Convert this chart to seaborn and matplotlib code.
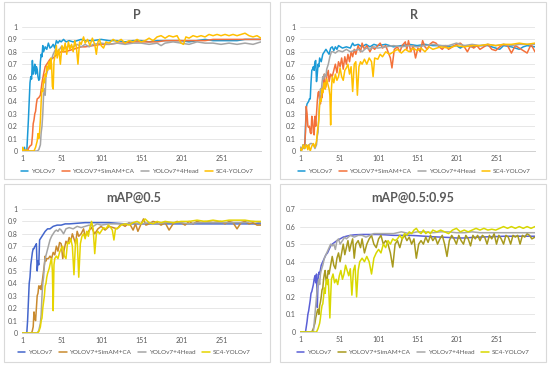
import matplotlib
matplotlib.use("Agg")
import matplotlib.pyplot as plt
from matplotlib.patches import Rectangle
from matplotlib.lines import Line2D
import pandas as pd
import seaborn as sns

# (epoch, value) points
models = ["YOLOv7", "YOLOV7+SimAM+CA", "YOLOv7+4Head", "SC4-YOLOv7"]

p_yolov7 = [(1,0),(3,0),(4,0.03),(5,0),(7,0),(9,0.25),(11,0.55),(12,0.6),(13,0.58),(14,0.73),(15,0.62),(16,0.66),(17,0.7),(18,0.62),(19,0.68),(20,0.66),(21,0.6),(22,0.57),(23,0.58),(24,0.72),(25,0.78),(26,0.76),(27,0.85),(28,0.8),(30,0.84),(32,0.82),(34,0.87),(36,0.83),(38,0.84),(40,0.86),(42,0.83),(44,0.89),(46,0.87),(48,0.89),(50,0.88),(53,0.9),(56,0.88),(60,0.89),(65,0.88),(70,0.89),(75,0.9),(80,0.89),(90,0.89),(100,0.9),(110,0.89),(120,0.89),(130,0.88),(140,0.89),(150,0.89),(160,0.88),(170,0.89),(180,0.89),(190,0.89),(200,0.89),(210,0.88),(220,0.89),(230,0.9),(240,0.89),(250,0.89),(260,0.89),(270,0.89),(280,0.9),(290,0.9),(300,0.9)]
p_simam = [(1,0),(5,0),(8,0),(9,0.02),(11,0.04),(13,0.05),(14,0.12),(15,0.22),(16,0.25),(17,0.3),(18,0.32),(19,0.38),(20,0.42),(22,0.43),(24,0.45),(25,0.5),(26,0.55),(28,0.62),(30,0.68),(32,0.7),(34,0.72),(36,0.74),(40,0.75),(45,0.78),(50,0.8),(55,0.8),(60,0.81),(65,0.82),(70,0.83),(75,0.84),(80,0.84),(90,0.85),(100,0.86),(110,0.86),(120,0.87),(130,0.87),(140,0.88),(150,0.88),(160,0.88),(170,0.88),(180,0.89),(190,0.89),(200,0.89),(210,0.89),(220,0.89),(230,0.89),(240,0.9),(250,0.9),(260,0.9),(270,0.9),(280,0.9),(290,0.9),(300,0.9)]
p_4head = [(1,0),(10,0),(20,0),(22,0.01),(24,0.05),(25,0.15),(26,0.2),(27,0.3),(28,0.45),(29,0.5),(30,0.45),(31,0.6),(33,0.65),(35,0.7),(37,0.72),(40,0.78),(43,0.82),(46,0.8),(50,0.84),(55,0.83),(60,0.85),(65,0.84),(70,0.86),(75,0.84),(80,0.86),(85,0.84),(90,0.86),(100,0.87),(110,0.86),(120,0.87),(130,0.86),(140,0.87),(150,0.87),(160,0.86),(170,0.87),(175,0.85),(180,0.87),(190,0.88),(200,0.87),(210,0.86),(220,0.88),(230,0.87),(240,0.87),(250,0.86),(260,0.87),(270,0.86),(280,0.87),(290,0.86),(300,0.88)]
p_sc4 = [(1,0),(2,0.03),(3,0),(5,0.01),(10,0),(16,0),(18,0.03),(20,0.08),(21,0.14),(22,0.1),(23,0.15),(24,0.25),(25,0.4),(26,0.5),(27,0.48),(28,0.58),(29,0.55),(30,0.62),(31,0.6),(32,0.68),(33,0.65),(34,0.7),(35,0.72),(36,0.66),(37,0.75),(38,0.7),(39,0.52),(40,0.5),(41,0.72),(42,0.76),(44,0.85),(45,0.75),(47,0.82),(49,0.7),(51,0.85),(53,0.8),(55,0.87),(57,0.78),(59,0.88),(61,0.82),(63,0.86),(65,0.8),(67,0.89),(69,0.84),(71,0.7),(73,0.88),(75,0.86),(78,0.92),(80,0.87),(83,0.9),(86,0.85),(89,0.91),(92,0.86),(94,0.78),(96,0.88),(98,0.9),(100,0.85),(103,0.83),(106,0.88),(110,0.87),(115,0.9),(120,0.88),(125,0.9),(130,0.87),(135,0.89),(140,0.88),(145,0.9),(150,0.88),(155,0.89),(160,0.91),(165,0.89),(170,0.92),(175,0.93),(180,0.91),(185,0.93),(190,0.92),(195,0.93),(200,0.87),(203,0.86),(206,0.92),(210,0.91),(215,0.93),(220,0.92),(225,0.93),(230,0.92),(235,0.94),(240,0.93),(245,0.94),(250,0.93),(255,0.94),(260,0.93),(265,0.94),(270,0.93),(275,0.94),(280,0.95),(285,0.93),(290,0.92),(295,0.93),(300,0.91)]

r_yolov7 = [(1,0.03),(2,0),(3,0.01),(5,0.05),(7,0.02),(8,0.2),(9,0.35),(10,0.38),(12,0.4),(13,0.42),(14,0.42),(15,0.55),(16,0.65),(17,0.66),(18,0.68),(19,0.65),(20,0.72),(21,0.73),(22,0.56),(23,0.62),(24,0.7),(25,0.68),(26,0.75),(28,0.72),(30,0.78),(32,0.8),(34,0.82),(36,0.8),(38,0.78),(40,0.83),(42,0.84),(44,0.81),(46,0.84),(48,0.82),(50,0.85),(55,0.83),(60,0.84),(65,0.83),(68,0.87),(70,0.85),(75,0.86),(80,0.84),(85,0.86),(90,0.84),(95,0.86),(100,0.85),(110,0.86),(120,0.84),(130,0.85),(140,0.86),(150,0.85),(160,0.86),(170,0.85),(180,0.85),(190,0.84),(200,0.85),(205,0.83),(210,0.85),(220,0.84),(230,0.85),(240,0.85),(250,0.83),(255,0.82),(260,0.85),(270,0.84),(280,0.82),(285,0.84),(290,0.85),(300,0.84)]
r_simam = [(1,0.02),(3,0.01),(5,0.03),(7,0.05),(8,0.15),(9,0.36),(10,0.3),(11,0.2),(12,0.19),(13,0.2),(14,0.15),(15,0.14),(16,0.28),(17,0.25),(18,0.15),(19,0.13),(20,0.28),(21,0.2),(22,0.3),(23,0.4),(24,0.47),(25,0.48),(26,0.42),(27,0.38),(28,0.45),(29,0.43),(30,0.5),(31,0.55),(32,0.62),(33,0.5),(34,0.52),(35,0.6),(37,0.65),(38,0.56),(40,0.62),(42,0.6),(44,0.65),(46,0.7),(48,0.63),(50,0.72),(52,0.68),(54,0.75),(56,0.66),(58,0.76),(60,0.7),(62,0.78),(64,0.72),(66,0.8),(68,0.76),(70,0.82),(72,0.78),(75,0.85),(78,0.8),(80,0.87),(83,0.82),(86,0.85),(90,0.8),(93,0.84),(96,0.82),(100,0.85),(103,0.87),(106,0.83),(110,0.85),(113,0.8),(116,0.75),(118,0.67),(121,0.82),(125,0.84),(128,0.8),(131,0.85),(135,0.88),(137,0.82),(139,0.89),(142,0.8),(145,0.85),(148,0.75),(151,0.83),(154,0.8),(157,0.89),(160,0.84),(163,0.82),(166,0.86),(170,0.88),(174,0.87),(178,0.84),(182,0.82),(186,0.85),(190,0.82),(195,0.84),(200,0.86),(205,0.87),(210,0.84),(214,0.8),(218,0.85),(222,0.83),(226,0.85),(230,0.82),(235,0.84),(240,0.86),(245,0.82),(250,0.81),(255,0.84),(260,0.86),(265,0.85),(270,0.79),(275,0.85),(280,0.83),(285,0.81),(290,0.79),(295,0.86),(300,0.8)]
r_4head = [(1,0.03),(5,0.02),(8,0.05),(12,0.04),(14,0.06),(16,0.06),(18,0.05),(20,0.02),(22,0.05),(23,0.12),(24,0.15),(25,0.3),(26,0.4),(27,0.5),(28,0.48),(29,0.55),(30,0.6),(31,0.58),(32,0.62),(34,0.6),(35,0.66),(37,0.7),(39,0.76),(41,0.8),(43,0.8),(46,0.79),(50,0.81),(55,0.8),(60,0.82),(65,0.8),(70,0.81),(75,0.82),(80,0.8),(85,0.83),(90,0.82),(95,0.84),(100,0.83),(110,0.84),(120,0.85),(130,0.84),(140,0.85),(150,0.84),(160,0.85),(170,0.86),(180,0.85),(190,0.85),(200,0.87),(210,0.85),(220,0.86),(230,0.85),(240,0.86),(250,0.85),(260,0.86),(270,0.85),(280,0.86),(290,0.86),(300,0.86)]
r_sc4 = [(1,0.02),(3,0.0),(5,0.05),(7,0.02),(9,0.05),(11,0.01),(12,0.05),(14,0.0),(16,0.04),(18,0.06),(20,0.03),(22,0.08),(23,0.15),(24,0.2),(25,0.25),(26,0.38),(27,0.42),(28,0.4),(29,0.5),(30,0.47),(31,0.52),(32,0.55),(33,0.5),(34,0.55),(35,0.58),(36,0.55),(38,0.5),(39,0.45),(40,0.21),(41,0.5),(42,0.6),(44,0.55),(46,0.62),(48,0.57),(50,0.6),(52,0.67),(54,0.6),(56,0.57),(58,0.65),(60,0.67),(62,0.7),(64,0.62),(66,0.68),(68,0.48),(70,0.7),(72,0.72),(74,0.45),(76,0.68),(78,0.72),(80,0.7),(83,0.74),(86,0.7),(89,0.75),(92,0.72),(94,0.6),(96,0.75),(100,0.74),(103,0.78),(106,0.76),(110,0.8),(115,0.78),(120,0.8),(125,0.82),(130,0.79),(135,0.82),(140,0.8),(145,0.83),(150,0.81),(155,0.83),(160,0.8),(165,0.84),(170,0.82),(180,0.84),(190,0.83),(200,0.85),(210,0.84),(220,0.85),(230,0.85),(240,0.86),(250,0.85),(260,0.86),(270,0.86),(280,0.87),(290,0.86),(300,0.87)]

m50_yolov7 = [(1,0),(5,0),(7,0),(8,0.1),(9,0.25),(10,0.4),(11,0.45),(12,0.55),(13,0.6),(14,0.65),(15,0.68),(16,0.68),(17,0.7),(18,0.7),(19,0.72),(20,0.5),(21,0.58),(22,0.55),(23,0.75),(24,0.76),(26,0.78),(28,0.8),(30,0.82),(33,0.84),(36,0.84),(40,0.86),(45,0.87),(50,0.87),(55,0.88),(60,0.88),(70,0.885),(80,0.89),(90,0.89),(100,0.89),(110,0.89),(120,0.885),(130,0.88),(150,0.88),(170,0.88),(200,0.88),(230,0.88),(260,0.88),(300,0.88)]
m50_simam = [(1,0),(10,0),(13,0),(14,0.02),(15,0.05),(16,0.17),(17,0.12),(18,0.1),(19,0.2),(20,0.3),(21,0.32),(22,0.38),(23,0.36),(24,0.38),(25,0.35),(26,0.4),(27,0.45),(28,0.5),(29,0.55),(30,0.62),(31,0.58),(32,0.6),(34,0.6),(36,0.62),(38,0.6),(40,0.65),(42,0.63),(44,0.7),(46,0.66),(48,0.73),(50,0.72),(52,0.6),(54,0.68),(56,0.74),(58,0.72),(60,0.77),(62,0.74),(64,0.8),(66,0.76),(68,0.72),(70,0.82),(72,0.78),(75,0.8),(78,0.84),(80,0.78),(84,0.82),(88,0.85),(92,0.8),(96,0.84),(100,0.86),(105,0.83),(110,0.86),(115,0.85),(120,0.84),(125,0.88),(130,0.86),(135,0.89),(140,0.83),(143,0.88),(146,0.82),(150,0.88),(153,0.92),(156,0.87),(160,0.88),(165,0.9),(170,0.89),(175,0.87),(180,0.89),(185,0.83),(190,0.88),(195,0.9),(200,0.89),(205,0.87),(210,0.9),(215,0.88),(220,0.9),(225,0.89),(230,0.9),(240,0.89),(250,0.9),(255,0.88),(260,0.9),(265,0.89),(270,0.84),(275,0.89),(280,0.9),(285,0.88),(290,0.89),(295,0.87),(300,0.87)]
m50_4head = [(1,0),(10,0),(20,0),(22,0.02),(24,0.08),(25,0.15),(26,0.3),(27,0.4),(28,0.45),(29,0.55),(30,0.6),(32,0.65),(34,0.7),(36,0.75),(38,0.78),(40,0.8),(42,0.82),(44,0.83),(46,0.82),(48,0.84),(50,0.83),(53,0.8),(56,0.84),(60,0.85),(65,0.84),(70,0.86),(75,0.85),(80,0.86),(85,0.87),(90,0.86),(95,0.88),(100,0.87),(110,0.88),(120,0.88),(130,0.88),(140,0.89),(150,0.88),(160,0.89),(170,0.88),(180,0.89),(190,0.89),(200,0.89),(210,0.88),(220,0.89),(230,0.89),(240,0.89),(250,0.89),(260,0.89),(270,0.89),(280,0.89),(290,0.9),(300,0.89)]
m50_sc4 = [(1,0),(10,0),(20,0),(22,0.01),(24,0.05),(25,0.1),(26,0.12),(27,0.2),(28,0.25),(29,0.3),(30,0.38),(31,0.4),(32,0.45),(33,0.48),(34,0.5),(35,0.52),(36,0.55),(37,0.58),(38,0.6),(39,0.5),(40,0.18),(41,0.55),(42,0.6),(44,0.62),(46,0.6),(48,0.65),(50,0.68),(52,0.7),(54,0.62),(56,0.6),(58,0.73),(60,0.72),(62,0.76),(64,0.7),(66,0.47),(68,0.74),(70,0.76),(72,0.45),(74,0.72),(76,0.78),(78,0.8),(80,0.76),(82,0.82),(84,0.78),(86,0.85),(88,0.9),(90,0.84),(92,0.64),(94,0.8),(96,0.82),(98,0.8),(100,0.82),(103,0.85),(106,0.84),(109,0.87),(112,0.85),(114,0.83),(116,0.75),(118,0.84),(122,0.85),(125,0.87),(130,0.88),(135,0.87),(140,0.89),(145,0.9),(150,0.88),(155,0.92),(160,0.89),(165,0.88),(170,0.9),(175,0.89),(180,0.9),(190,0.89),(200,0.9),(210,0.9),(220,0.91),(230,0.9),(240,0.91),(250,0.9),(260,0.91),(270,0.91),(280,0.91),(290,0.9),(300,0.9)]

m95_yolov7 = [(1,0),(6,0),(8,0),(9,0.03),(10,0.06),(11,0.1),(12,0.12),(13,0.15),(14,0.18),(15,0.22),(16,0.23),(17,0.25),(18,0.27),(19,0.3),(20,0.32),(21,0.28),(22,0.33),(23,0.14),(24,0.3),(25,0.34),(26,0.33),(28,0.38),(30,0.4),(32,0.42),(34,0.44),(36,0.45),(38,0.47),(40,0.49),(42,0.5),(45,0.51),(48,0.52),(52,0.53),(56,0.54),(60,0.545),(65,0.55),(70,0.553),(80,0.555),(90,0.555),(100,0.555),(110,0.553),(120,0.55),(130,0.55),(140,0.55),(150,0.548),(160,0.545),(170,0.542),(180,0.54),(190,0.538),(200,0.535),(210,0.535),(220,0.538),(230,0.54),(240,0.542),(250,0.543),(260,0.545),(270,0.545),(280,0.545),(290,0.545),(300,0.545)]
m95_simam = [(1,0),(10,0),(16,0),(18,0.02),(20,0.05),(21,0.08),(22,0.1),(23,0.12),(24,0.13),(25,0.1),(26,0.15),(27,0.17),(28,0.2),(29,0.24),(30,0.25),(31,0.3),(32,0.33),(33,0.35),(34,0.3),(35,0.28),(36,0.32),(37,0.35),(38,0.33),(40,0.38),(42,0.43),(44,0.38),(46,0.36),(48,0.42),(50,0.45),(52,0.4),(54,0.45),(56,0.5),(58,0.44),(60,0.48),(62,0.52),(64,0.46),(66,0.5),(68,0.53),(70,0.42),(72,0.5),(75,0.52),(78,0.48),(80,0.53),(83,0.45),(86,0.5),(89,0.53),(92,0.55),(95,0.5),(98,0.48),(101,0.53),(104,0.55),(107,0.5),(110,0.52),(113,0.5),(116,0.45),(119,0.37),(122,0.5),(125,0.52),(128,0.48),(131,0.53),(134,0.55),(137,0.52),(140,0.54),(143,0.5),(146,0.53),(149,0.42),(152,0.5),(155,0.52),(158,0.5),(161,0.54),(164,0.51),(167,0.55),(170,0.52),(173,0.54),(176,0.5),(179,0.53),(182,0.55),(185,0.5),(188,0.43),(191,0.52),(194,0.55),(197,0.53),(200,0.5),(203,0.55),(206,0.52),(209,0.5),(212,0.55),(215,0.53),(218,0.49),(221,0.55),(224,0.53),(227,0.55),(230,0.52),(233,0.55),(236,0.54),(239,0.5),(242,0.55),(245,0.53),(248,0.56),(251,0.5),(254,0.55),(257,0.53),(260,0.5),(263,0.55),(266,0.54),(269,0.5),(272,0.55),(275,0.54),(278,0.55),(281,0.5),(284,0.55),(287,0.54),(290,0.56),(293,0.55),(296,0.53),(300,0.54)]
m95_4head = [(1,0),(10,0),(18,0),(19,0.05),(20,0.1),(21,0.15),(22,0.2),(23,0.25),(24,0.28),(25,0.3),(26,0.27),(27,0.33),(28,0.35),(30,0.38),(32,0.42),(34,0.44),(36,0.46),(38,0.48),(40,0.5),(42,0.49),(44,0.5),(46,0.47),(48,0.52),(50,0.53),(52,0.5),(55,0.52),(58,0.54),(60,0.53),(65,0.55),(70,0.54),(75,0.55),(80,0.55),(85,0.54),(90,0.55),(95,0.56),(100,0.56),(110,0.56),(120,0.56),(130,0.57),(140,0.56),(150,0.57),(160,0.57),(170,0.565),(180,0.57),(190,0.57),(200,0.565),(210,0.565),(220,0.57),(230,0.565),(240,0.565),(250,0.565),(260,0.565),(270,0.565),(280,0.565),(290,0.565),(300,0.565)]
m95_sc4 = [(1,0),(10,0),(22,0),(24,0.02),(26,0.05),(27,0.08),(28,0.12),(29,0.15),(30,0.16),(31,0.2),(32,0.25),(33,0.22),(34,0.28),(35,0.3),(36,0.27),(37,0.3),(38,0.2),(39,0.08),(40,0.2),(41,0.3),(43,0.33),(45,0.28),(47,0.3),(49,0.27),(51,0.32),(53,0.35),(55,0.3),(57,0.33),(59,0.38),(61,0.35),(63,0.32),(65,0.36),(67,0.21),(69,0.35),(71,0.38),(73,0.2),(75,0.35),(77,0.4),(80,0.42),(83,0.4),(86,0.43),(89,0.4),(92,0.33),(95,0.42),(98,0.45),(101,0.47),(104,0.45),(107,0.5),(110,0.48),(113,0.52),(116,0.5),(119,0.53),(122,0.52),(125,0.53),(128,0.55),(131,0.53),(134,0.56),(137,0.55),(140,0.57),(143,0.56),(146,0.58),(149,0.59),(152,0.57),(155,0.56),(158,0.58),(161,0.56),(164,0.57),(167,0.56),(170,0.58),(175,0.57),(180,0.58),(185,0.57),(190,0.56),(195,0.58),(200,0.59),(205,0.57),(210,0.58),(215,0.57),(220,0.58),(225,0.59),(230,0.58),(235,0.59),(240,0.58),(245,0.585),(250,0.58),(255,0.59),(260,0.6),(265,0.59),(270,0.6),(275,0.59),(280,0.6),(285,0.59),(290,0.6),(295,0.59),(300,0.6)]

x_ticks = [1, 51, 101, 151, 201, 251]

sns.set_theme(style="white")
plt.rcParams['font.family'] = ['Lato', 'DejaVu Sans']

panels = [
    # title, series, colours, ymax, axes rect (px), box (px), title x/y, legend y
    ("P", [p_yolov7, p_simam, p_4head, p_sc4],
     ["#1B9AD6", "#F4713A", "#A5A5A5", "#FFC000"], 1.0,
     (22, 27, 261, 151), (4, 2, 270, 179), 137, 15, 171),
    ("R", [r_yolov7, r_simam, r_4head, r_sc4],
     ["#1B9AD6", "#F4713A", "#A5A5A5", "#FFC000"], 1.0,
     (300, 27, 535, 151), (280, 2, 546, 179), 414, 15, 171),
    ("mAP@0.5", [m50_yolov7, m50_simam, m50_4head, m50_sc4],
     ["#4466CC", "#C98A2E", "#A5A5A5", "#E6D400"], 1.0,
     (22, 209, 261, 333), (4, 184, 270, 362), 134, 198, 352),
    ("mAP@0.5:0.95", [m95_yolov7, m95_simam, m95_4head, m95_sc4],
     ["#5A5FD6", "#A89A1E", "#A8A8A8", "#D8D800"], 0.7,
     (300, 209, 535, 332), (280, 184, 546, 362), 413, 198, 352),
]

W, H = 550, 365
fig = plt.figure(figsize=(5.5, 3.65), dpi=100)
fig.patch.set_facecolor("white")

for title, series, colors, ymax, rect, box, tx, ty, ly in panels:
    fig.patches.append(Rectangle((box[0] / W, 1 - box[3] / H), (box[2] - box[0]) / W,
                                 (box[3] - box[1]) / H, transform=fig.transFigure,
                                 facecolor="none", edgecolor="#D9D9D9", lw=0.8))
    ax = fig.add_axes([rect[0] / W, 1 - rect[3] / H, (rect[2] - rect[0]) / W,
                       (rect[3] - rect[1]) / H])
    frames = []
    for name, pts in zip(models, series):
        d = pd.DataFrame(pts, columns=["epoch", "value"])
        d["model"] = name
        frames.append(d)
    df = pd.concat(frames, ignore_index=True)
    sns.lineplot(data=df, x="epoch", y="value", hue="model", hue_order=models,
                 palette=dict(zip(models, colors)), estimator=None, linewidth=1.1,
                 legend=False, ax=ax)
    ax.set_xlim(1, 300)
    ax.set_ylim(0, ymax)
    ax.set_xticks(x_ticks)
    ax.set_xticklabels([str(t) for t in x_ticks])
    yt = [round(i * 0.1, 1) for i in range(int(round(ymax * 10)) + 1)]
    ax.set_yticks(yt)
    ax.set_yticklabels(["0" if v == 0 else ("1" if v == 1 else f"{v:.1f}") for v in yt])
    ax.set_xlabel("")
    ax.set_ylabel("")
    ax.grid(axis="y", color="#E3E3E3", lw=0.6)
    ax.set_axisbelow(True)
    for s in ["top", "right", "left"]:
        ax.spines[s].set_visible(False)
    ax.spines["bottom"].set_color("#D0D0D0")
    ax.spines["bottom"].set_linewidth(0.7)
    ax.tick_params(axis="both", length=0, labelsize=5, labelcolor="#595959", pad=3)
    fig.text(tx / W, 1 - ty / H, title, ha="center", va="center", fontsize=9,
             fontweight="bold", color="#595959")
    handles = [Line2D([0], [0], color=c, lw=1.1) for c in colors]
    fig.legend(handles, models, loc="center", bbox_to_anchor=(tx / W, 1 - ly / H),
               ncol=4, frameon=False, prop={"size": 4.6}, labelcolor="#595959",
               handlelength=1.2, handletextpad=0.4, columnspacing=1.1,
               borderaxespad=0, borderpad=0)

fig.savefig("out.png", dpi=100)
